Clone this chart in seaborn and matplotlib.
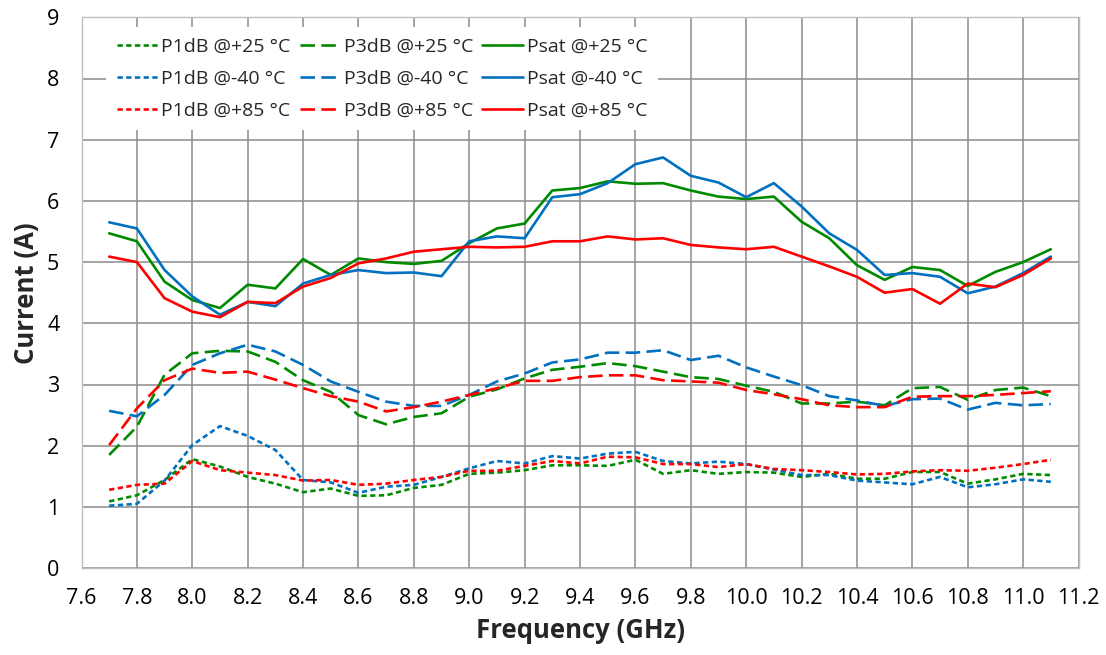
import matplotlib
matplotlib.use("Agg")
import matplotlib.pyplot as plt
import seaborn as sns
import pandas as pd

freq = [7.7, 7.8, 7.9, 8.0, 8.1, 8.2, 8.3, 8.4, 8.5, 8.6, 8.7, 8.8, 8.9, 9.0, 9.1, 9.2, 9.3, 9.4,
        9.5, 9.6, 9.7, 9.8, 9.9, 10.0, 10.1, 10.2, 10.3, 10.4, 10.5, 10.6, 10.7, 10.8, 10.9, 11.0, 11.1]

p1db_p25 = [1.09, 1.19, 1.44, 1.78, 1.66, 1.49, 1.38, 1.24, 1.30, 1.18, 1.19, 1.31, 1.36, 1.54, 1.56, 1.60, 1.68, 1.68,
            1.67, 1.77, 1.54, 1.60, 1.54, 1.57, 1.56, 1.49, 1.54, 1.46, 1.46, 1.57, 1.57, 1.38, 1.45, 1.54, 1.52]
p1db_m40 = [1.02, 1.05, 1.43, 2.01, 2.32, 2.16, 1.93, 1.44, 1.40, 1.23, 1.33, 1.36, 1.49, 1.63, 1.75, 1.71, 1.83, 1.79,
            1.87, 1.90, 1.75, 1.71, 1.74, 1.70, 1.61, 1.52, 1.52, 1.43, 1.40, 1.37, 1.49, 1.32, 1.37, 1.45, 1.41]
p1db_p85 = [1.28, 1.36, 1.38, 1.75, 1.60, 1.56, 1.52, 1.43, 1.44, 1.36, 1.38, 1.44, 1.49, 1.59, 1.59, 1.67, 1.75, 1.71,
            1.82, 1.81, 1.70, 1.70, 1.65, 1.70, 1.62, 1.60, 1.57, 1.53, 1.54, 1.58, 1.60, 1.59, 1.64, 1.70, 1.77]

p3db_p25 = [1.85, 2.31, 3.16, 3.51, 3.55, 3.54, 3.37, 3.07, 2.88, 2.50, 2.35, 2.47, 2.53, 2.80, 2.92, 3.10, 3.24, 3.29,
            3.35, 3.30, 3.21, 3.12, 3.09, 2.98, 2.88, 2.69, 2.69, 2.72, 2.66, 2.94, 2.96, 2.75, 2.91, 2.95, 2.81]
p3db_m40 = [2.57, 2.48, 2.83, 3.32, 3.51, 3.65, 3.54, 3.32, 3.05, 2.88, 2.72, 2.65, 2.65, 2.83, 3.05, 3.18, 3.36, 3.41,
            3.52, 3.52, 3.56, 3.40, 3.47, 3.28, 3.13, 2.99, 2.81, 2.74, 2.65, 2.76, 2.77, 2.59, 2.70, 2.66, 2.68]
p3db_p85 = [2.01, 2.61, 3.07, 3.26, 3.19, 3.21, 3.08, 2.94, 2.81, 2.72, 2.56, 2.63, 2.72, 2.83, 2.94, 3.06, 3.06, 3.12,
            3.15, 3.15, 3.07, 3.05, 3.03, 2.91, 2.84, 2.76, 2.66, 2.63, 2.63, 2.80, 2.81, 2.81, 2.83, 2.86, 2.89]

psat_p25 = [5.47, 5.34, 4.68, 4.38, 4.25, 4.63, 4.57, 5.05, 4.79, 5.06, 5.00, 4.97, 5.02, 5.31, 5.55, 5.63, 6.17, 6.21,
            6.32, 6.28, 6.29, 6.17, 6.07, 6.03, 6.07, 5.66, 5.39, 4.95, 4.71, 4.92, 4.87, 4.61, 4.84, 5.00, 5.21]
psat_m40 = [5.65, 5.55, 4.87, 4.44, 4.14, 4.35, 4.28, 4.65, 4.79, 4.87, 4.82, 4.83, 4.77, 5.34, 5.42, 5.39, 6.06, 6.11,
            6.29, 6.60, 6.71, 6.41, 6.30, 6.06, 6.29, 5.91, 5.47, 5.20, 4.79, 4.82, 4.76, 4.49, 4.60, 4.82, 5.09]
psat_p85 = [5.09, 5.00, 4.41, 4.19, 4.10, 4.35, 4.33, 4.60, 4.74, 4.98, 5.06, 5.17, 5.21, 5.25, 5.24, 5.25, 5.34, 5.34,
            5.42, 5.37, 5.39, 5.28, 5.24, 5.21, 5.25, 5.09, 4.93, 4.76, 4.50, 4.56, 4.32, 4.65, 4.59, 4.79, 5.06]

x_ticks = [7.6, 7.8, 8.0, 8.2, 8.4, 8.6, 8.8, 9.0, 9.2, 9.4, 9.6, 9.8, 10.0, 10.2, 10.4, 10.6, 10.8, 11.0, 11.2]
y_ticks = [0, 1, 2, 3, 4, 5, 6, 7, 8, 9]

series = [
    ("P1dB @+25 °C", p1db_p25, "#008A00", "p1"),
    ("P1dB @-40 °C", p1db_m40, "#0070C0", "p1"),
    ("P1dB @+85 °C", p1db_p85, "#FF0000", "p1"),
    ("P3dB @+25 °C", p3db_p25, "#008A00", "p3"),
    ("P3dB @-40 °C", p3db_m40, "#0070C0", "p3"),
    ("P3dB @+85 °C", p3db_p85, "#FF0000", "p3"),
    ("Psat @+25 °C", psat_p25, "#008A00", "ps"),
    ("Psat @-40 °C", psat_m40, "#0070C0", "ps"),
    ("Psat @+85 °C", psat_p85, "#FF0000", "ps"),
]
styles = {"p1": (0, (2.0, 1.3)), "p3": (0, (5.5, 2.4)), "ps": "-"}

sns.set_theme(style="white")
plt.rcParams["font.family"] = ["Open Sans", "DejaVu Sans"]

fig = plt.figure(figsize=(11.06, 6.55), dpi=100)
ax = fig.add_axes([81.5 / 1106, 1 - 568.1 / 655, (1078.5 - 81.5) / 1106, (568.1 - 17.3) / 655])

for label, vals, color, kind in series:
    df = pd.DataFrame({"freq": freq, "current": vals})
    sns.lineplot(data=df, x="freq", y="current", ax=ax, color=color, linestyle=styles[kind],
                 linewidth=1.9, label=label, legend=False)

ax.set_xlim(7.6, 11.2)
ax.set_ylim(0, 9)
ax.set_xticks(x_ticks)
ax.set_xticklabels([f"{t:.1f}" for t in x_ticks])
ax.set_yticks(y_ticks)
ax.grid(True, color="#8C8C8C", linewidth=1.1)
ax.set_axisbelow(True)
for s in ax.spines.values():
    s.set_color("#BFBFBF")
    s.set_linewidth(1.0)
ax.tick_params(axis="both", length=0, labelsize=15.5, colors="#000000")
ax.tick_params(axis="x", pad=14)
ax.tick_params(axis="y", pad=16)
ax.set_xlabel("Frequency (GHz)", fontsize=18.5, fontweight="bold", labelpad=6)
ax.set_ylabel("Current (A)", fontsize=18.5, fontweight="bold", labelpad=5)

handles, labels = ax.get_legend_handles_labels()
leg = ax.legend(handles, labels, ncol=3, loc="upper left",
                bbox_to_anchor=(106 / 1106, 1 - 27 / 655), bbox_transform=fig.transFigure,
                frameon=True, fancybox=False, facecolor="white", edgecolor="white", framealpha=1,
                fontsize=14, handlelength=2.1, handletextpad=0.2, columnspacing=0.45,
                labelspacing=0.72, borderpad=0.55, borderaxespad=0)
leg.get_frame().set_linewidth(0)

fig.savefig("out.png", dpi=100)
